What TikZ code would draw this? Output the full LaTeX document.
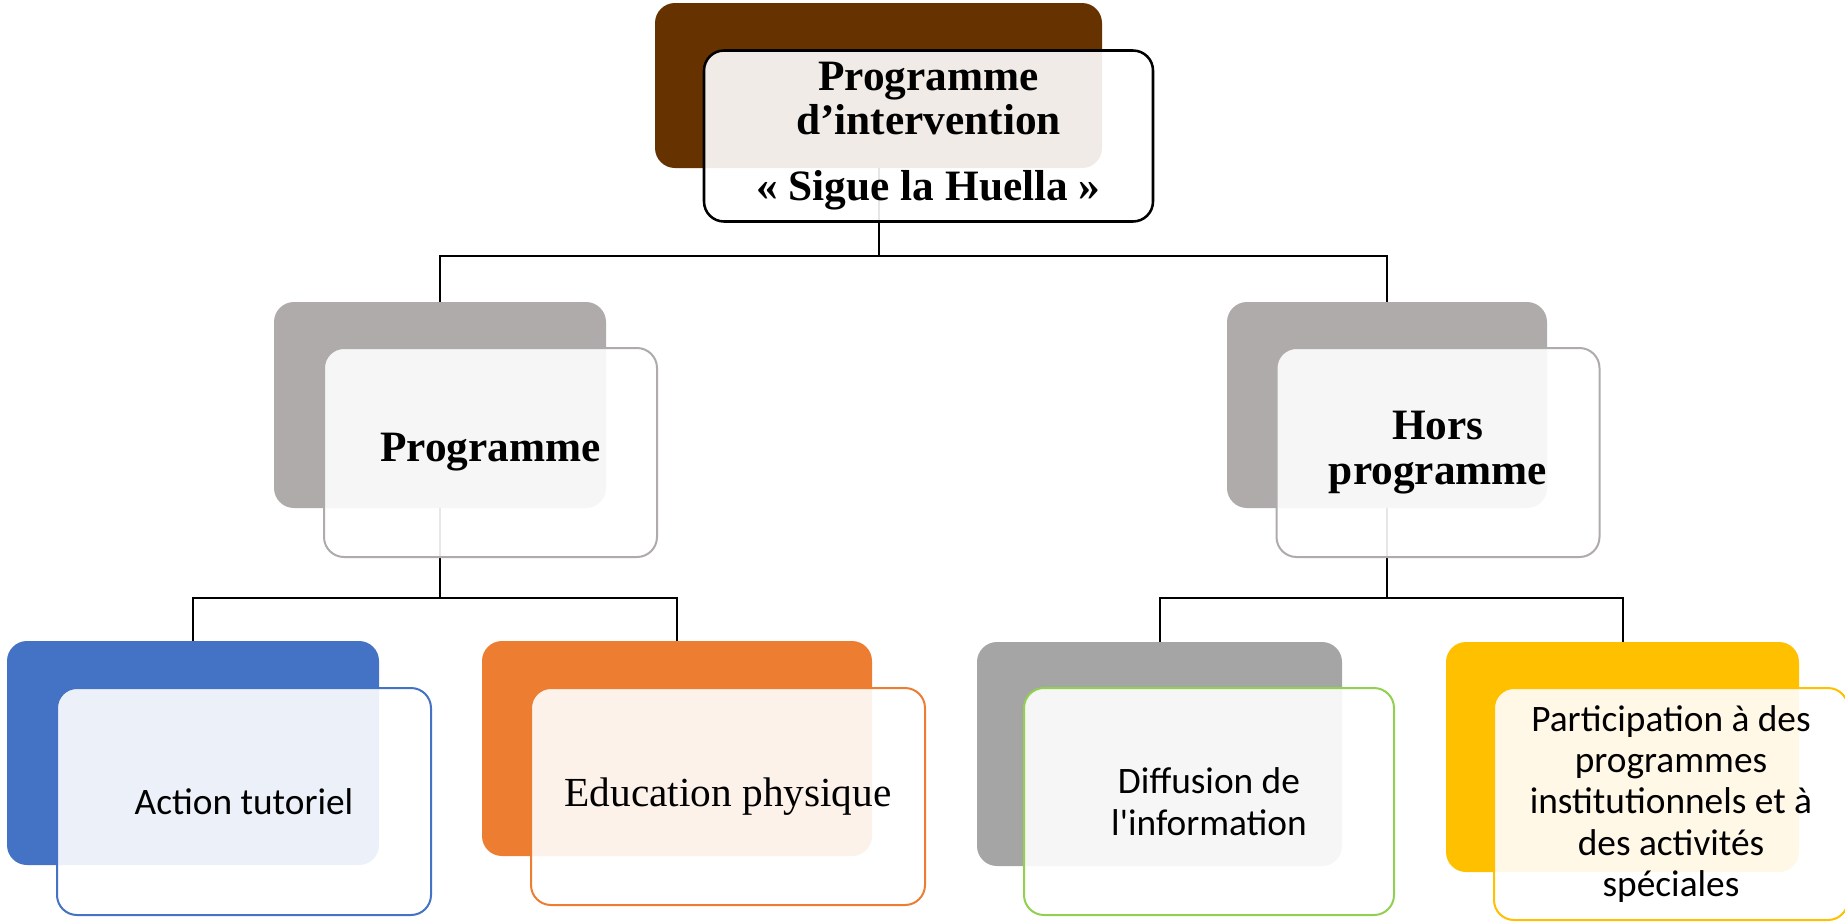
\documentclass[tikz,border=0pt]{standalone}
\usepackage{fontspec}
\setmainfont{Liberation Serif}
\newfontfamily\calibri[Ligatures=TeXOff]{Carlito}
\usetikzlibrary{backgrounds}

\definecolor{brownback}{HTML}{663300}
\definecolor{greyback}{HTML}{AFABAB}
\definecolor{blueback}{HTML}{4472C4}
\definecolor{orangeback}{HTML}{ED7D31}
\definecolor{darkgrey}{HTML}{A5A5A5}
\definecolor{greenline}{HTML}{92D050}
\definecolor{yellowback}{HTML}{FFC000}

\tikzset{
  boxsize/.style 2 args={minimum width=#1*0.75pt, minimum height=#2*0.75pt},
  backbox/.style={rounded corners=15pt, inner sep=0pt, fill=#1},
  frontbox/.style={rounded corners=15pt, inner sep=0pt, draw=#1, line width=1.5pt,
    fill=white, fill opacity=0.9, text opacity=1, align=center},
  titletext/.style={font=\fontsize{32.5}{33.5}\selectfont\bfseries},
  bodytext/.style={font=\calibri\fontsize{28}{31}\selectfont},
  link/.style={line width=1.5pt, black}
}

\begin{document}
\begin{tikzpicture}[x=0.75pt,y=0.75pt,yscale=-1,xscale=1]
    \useasboundingbox (0,0) rectangle (1845,922);
    % niveau 1
    \node[backbox=brownback, boxsize={447}{165}] (topback) at (878.5,85.5) {};
    \node[frontbox=black, line width=1.9pt, boxsize={449}{171}, titletext] (top) at (928.5,136) {Programme\\d’intervention\\[16pt]« Sigue la Huella »};
    % niveau 2
    \node[backbox=greyback, boxsize={332}{206}] (progback) at (440,405) {};
    \node[frontbox=greyback, boxsize={333}{209}, titletext] (prog) at (490.5,452.5) {Programme};
    \node[backbox=greyback, boxsize={320}{206}] (horsback) at (1387,405) {};
    \node[frontbox=greyback, boxsize={323}{209}, titletext] (hors) at (1438,452.5) {Hors\\programme};
    % niveau 3
    \node[backbox=blueback, boxsize={372}{224}] (actback) at (193,753) {};
    \node[frontbox=blueback, boxsize={374}{227}, bodytext] (act) at (244,801.5) {Action tutoriel};
    \node[backbox=orangeback, boxsize={390}{215}] (eduback) at (677,748.5) {};
    \node[frontbox=orangeback, boxsize={394}{217}, font=\fontsize{31}{33}\selectfont] (edu) at (728,796.5) {Education physique};
    \node[backbox=darkgrey, boxsize={365}{224}] (difback) at (1159.5,754) {};
    \node[frontbox=greenline, boxsize={370}{227}, bodytext] (dif) at (1209,801.5) {Diffusion de\\l'information};
    \node[backbox=yellowback, boxsize={353}{230}] (partback) at (1622.5,757) {};
    \node[frontbox=yellowback, boxsize={354}{232}, bodytext] (part) at (1671,804) {Participation à des\\programmes\\institutionnels et à\\des activités\\spéciales};
    % liaisons
    \begin{scope}[on background layer]
        \coordinate (bus1) at (878.5,256);
        \coordinate (bus2) at (440,598);
        \coordinate (bus3) at (1387,598);
        \draw[link] (topback.center) -- (bus1) -| (progback.center);
        \draw[link] (bus1) -| (horsback.center);
        \draw[link] (progback.center) -- (bus2) -| (actback.center);
        \draw[link] (bus2) -| (eduback.center);
        \draw[link] (horsback.center) -- (bus3) -| (difback.center);
        \draw[link] (bus3) -| (partback.center);
    \end{scope}
\end{tikzpicture}
\end{document}
